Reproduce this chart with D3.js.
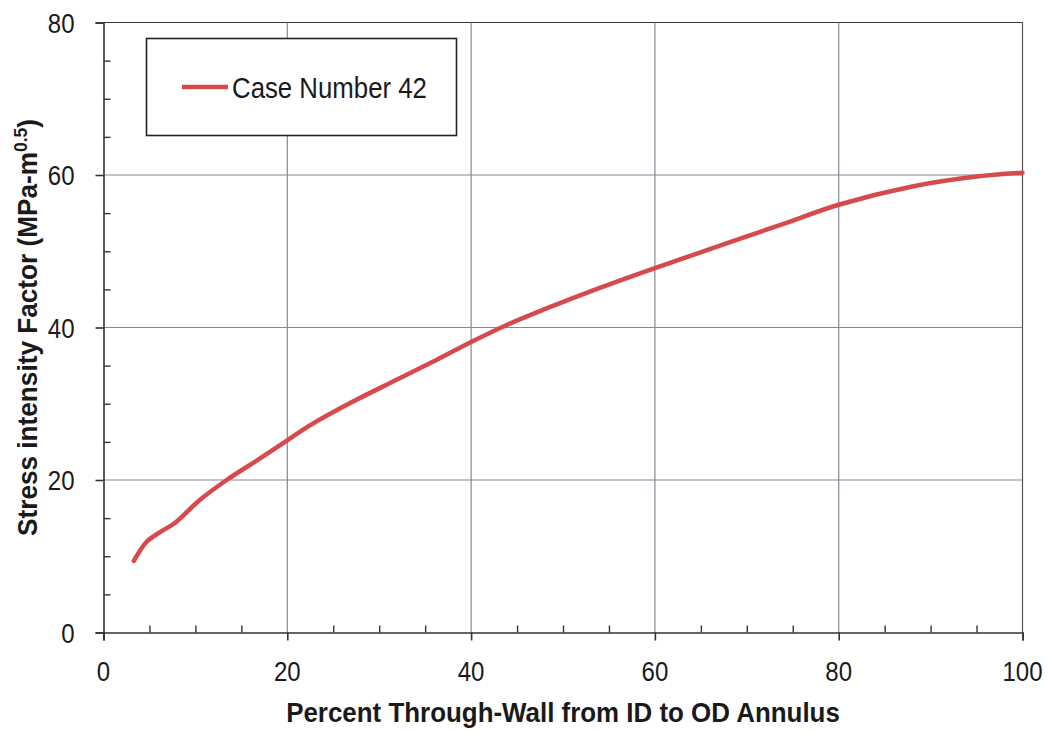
<!DOCTYPE html>
<html>
<head>
<meta charset="utf-8">
<script src="https://cdn.jsdelivr.net/npm/d3@7"></script>
<style>
  html, body { margin: 0; padding: 0; background: #fff; }
  svg { display: block; }
  text { font-family: "Liberation Sans", Arial, sans-serif; fill: #1a1a1a; }
</style>
</head>
<body>
<svg id="chart" width="1048" height="731"></svg>
<script>
// ---- data ----
const xValues = [3.3, 4.7, 6.2, 7.8, 10.5, 13.4, 17, 20, 22.5, 27, 32, 36, 40, 44, 48, 54, 60, 67, 74, 80, 88, 95, 100];
const kValues = [9.4, 11.9, 13.2, 14.4, 17.4, 20.0, 22.8, 25.2, 27.2, 30.2, 33.2, 35.6, 38.1, 40.4, 42.4, 45.2, 47.8, 50.7, 53.6, 56.1, 58.5, 59.8, 60.3];
const xTicks = [0, 20, 40, 60, 80, 100];
const yTicks = [0, 20, 40, 60, 80];
const xMinor = [5, 10, 15, 25, 30, 35, 45, 50, 55, 65, 70, 75, 85, 90, 95];
const yMinor = [5, 10, 15, 25, 30, 35, 45, 50, 55, 65, 70, 75];
const seriesName = "Case Number 42";
const xTitle = "Percent Through-Wall from ID to OD Annulus";

// ---- layout ----
const svg = d3.select("#chart");
const L = 103.5, R = 1022.5, T = 22.5, B = 632.5;
const x = d3.scaleLinear().domain([0, 100]).range([L, R]);
const y = d3.scaleLinear().domain([0, 80]).range([B, T]);
const red = "#d64a4b";
const gridColor = "#8a8598";
const axisColor = "#333";
const sx = 0.89;

// grid
svg.append("g").selectAll("line").data(yTicks.filter(d => d > 0)).join("line")
  .attr("x1", L).attr("x2", R).attr("y1", d => y(d)).attr("y2", d => y(d))
  .attr("stroke", d => d === 80 ? axisColor : gridColor).attr("stroke-width", 1.2);
svg.append("g").selectAll("line").data(xTicks.filter(d => d > 0)).join("line")
  .attr("y1", T).attr("y2", B).attr("x1", d => x(d)).attr("x2", d => x(d))
  .attr("stroke", d => d === 100 ? "#555" : gridColor).attr("stroke-width", 1.2);

// axes
const xAxis = svg.append("g").attr("transform", `translate(0,${B})`)
  .call(d3.axisBottom(x).tickValues(xTicks).tickSize(8).tickFormat(""));
const yAxis = svg.append("g").attr("transform", `translate(${L},0)`)
  .call(d3.axisLeft(y).tickValues(yTicks).tickSize(8).tickFormat(""));
[xAxis, yAxis].forEach(g => {
  g.select(".domain").attr("stroke", axisColor).attr("stroke-width", 1.6);
  g.selectAll(".tick line").attr("stroke", axisColor).attr("stroke-width", 1.6);
});
// minor ticks (inside)
svg.append("g").attr("transform", `translate(0,${B})`)
  .call(d3.axisTop(x).tickValues(xMinor).tickSize(7).tickFormat(""))
  .call(g => { g.select(".domain").remove(); g.selectAll("line").attr("stroke", axisColor).attr("stroke-width", 1.4); });
svg.append("g").attr("transform", `translate(${L},0)`)
  .call(d3.axisRight(y).tickValues(yMinor).tickSize(7).tickFormat(""))
  .call(g => { g.select(".domain").remove(); g.selectAll("line").attr("stroke", axisColor).attr("stroke-width", 1.4); });

// tick labels
svg.append("g").selectAll("text").data(xTicks).join("text")
  .attr("transform", d => `translate(${x(d)},${B + 48}) scale(${sx},1)`)
  .attr("text-anchor", "middle").attr("font-size", 27).text(d => d);
svg.append("g").selectAll("text").data(yTicks).join("text")
  .attr("transform", d => `translate(${L - 29},${y(d) + 10}) scale(${sx},1)`)
  .attr("text-anchor", "end").attr("font-size", 27).text(d => d);

// line
const line = d3.line().x(d => x(d[0])).y(d => y(d[1])).curve(d3.curveCatmullRom.alpha(0.5));
svg.append("path").datum(xValues.map((v, i) => [v, kValues[i]]))
  .attr("d", line).attr("fill", "none").attr("stroke", red)
  .attr("stroke-width", 4.5).attr("stroke-linecap", "round").attr("stroke-linejoin", "round");

// legend
svg.append("rect").attr("x", 146.5).attr("y", 38.5).attr("width", 310).attr("height", 97)
  .attr("fill", "#fff").attr("stroke", "#222").attr("stroke-width", 1.6);
svg.append("line").attr("x1", 182).attr("x2", 228).attr("y1", 87).attr("y2", 87)
  .attr("stroke", red).attr("stroke-width", 4.5);
svg.append("text").attr("transform", `translate(232,98) scale(0.86,1)`)
  .attr("font-size", 30).text(seriesName);

// axis titles
svg.append("text").attr("transform", `translate(${(L + R) / 2},722) scale(0.96,1)`)
  .attr("text-anchor", "middle").attr("font-size", 27).attr("font-weight", "bold").text(xTitle);
const yt = svg.append("text").attr("transform", `translate(37,${(T + B) / 2}) rotate(-90) scale(0.97,1)`)
  .attr("text-anchor", "middle").attr("font-size", 27).attr("font-weight", "bold");
yt.append("tspan").text("Stress intensity Factor (MPa-m");
yt.append("tspan").attr("dy", -10).attr("font-size", 18).text("0.5");
yt.append("tspan").attr("dy", 10).text(")");
</script>
</body>
</html>
